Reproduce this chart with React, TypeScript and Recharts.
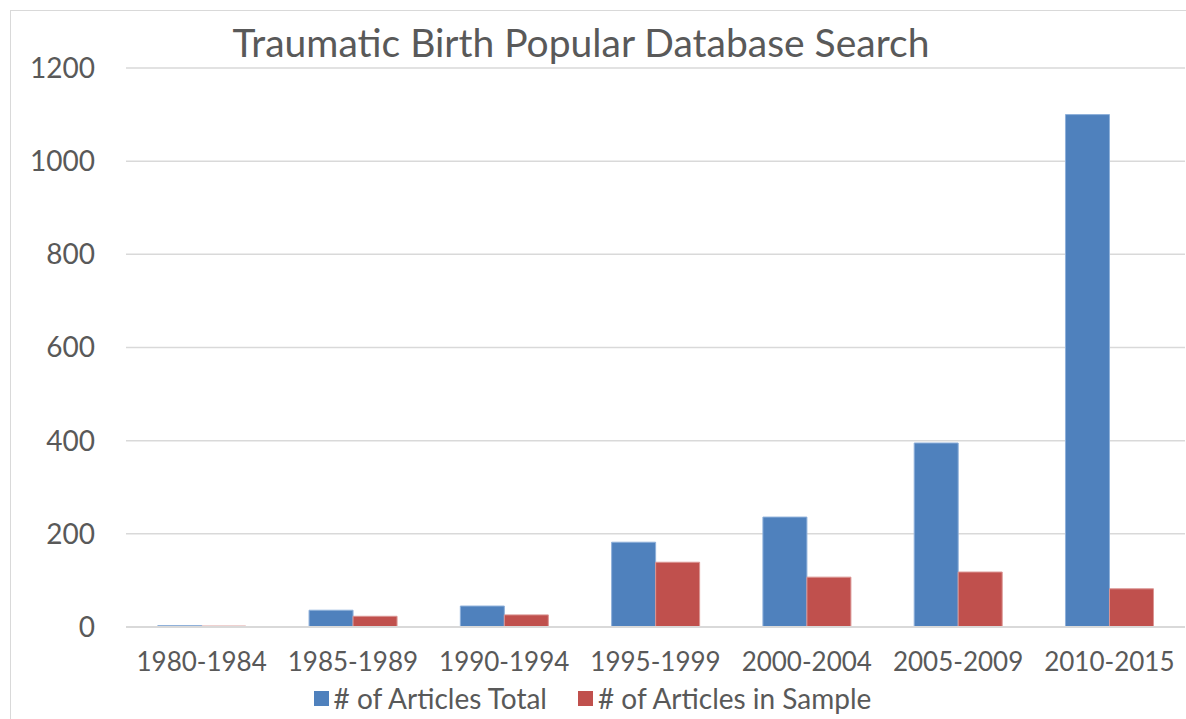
import { Bar, BarChart, CartesianGrid, Legend, XAxis, YAxis } from "recharts";

const periods = ["1980-1984", "1985-1989", "1990-1994", "1995-1999", "2000-2004", "2005-2009", "2010-2015"];
const totalArticles = [3, 36, 45, 182, 236, 395, 1100];
const sampleArticles = [2, 23, 26, 139, 107, 118, 82];
const yTicks = [0, 200, 400, 600, 800, 1000, 1200];

const rows = periods.map((p, i) => ({
  period: p,
  total: totalArticles[i],
  sample: sampleArticles[i],
}));

const FONT = "Lato, 'Open Sans', sans-serif";
const TEXT = "#595959";

function LegendContent(props: any) {
  const { payload } = props;
  return (
    <div style={{ display: "flex", justifyContent: "center", gap: 31, fontFamily: FONT, fontSize: 28, color: TEXT }}>
      {(payload || []).map((item: any) => (
        <div key={item.value} style={{ display: "flex", alignItems: "center", gap: 5 }}>
          <span style={{ width: 15, height: 15, background: item.color, display: "inline-block" }} />
          <span>{item.value}</span>
        </div>
      ))}
    </div>
  );
}

export default function App() {
  return (
    <div style={{ position: "fixed", left: 0, top: 0, width: 1186, height: 719, overflow: "hidden", background: "#fff" }}>
      <div
        style={{
          position: "absolute",
          left: 10,
          top: 10,
          width: 1200,
          height: 740,
          border: "1px solid #d9d9d9",
        }}
      />
      <div
        style={{
          position: "absolute",
          left: 0,
          width: 1162,
          top: 19,
          textAlign: "center",
          fontFamily: FONT,
          fontSize: 39,
          color: TEXT,
        }}
      >
        Traumatic Birth Popular Database Search
      </div>
      <div style={{ position: "absolute", left: 0, top: 0 }}>
        <BarChart
          width={1186}
          height={719}
          data={rows}
          margin={{ top: 68, right: 1, left: 0, bottom: 4 }}
          barCategoryGap="21%"
          barGap={0}
        >
          <CartesianGrid vertical={false} stroke="#d9d9d9" strokeWidth={1.5} />
          <XAxis
            dataKey="period"
            axisLine={{ stroke: "#d9d9d9", strokeWidth: 2 }}
            tickLine={false}
            tickSize={6}
            tickMargin={20}
            height={54}
            interval={0}
            tick={{ fill: TEXT, fontSize: 26, fontFamily: FONT }}
          />
          <YAxis
            domain={[0, 1200]}
            ticks={yTicks}
            axisLine={false}
            tickLine={false}
            tickSize={6}
            tickMargin={25}
            width={126}
            tick={{ fill: TEXT, fontSize: 28, fontFamily: FONT }}
          />
          <Legend verticalAlign="bottom" content={<LegendContent />} />
          <Bar dataKey="total" name="# of Articles Total" fill="#4F81BD" stroke="#8EB0DA" strokeWidth={1} isAnimationActive={false} />
          <Bar dataKey="sample" name="# of Articles in Sample" fill="#C0504D" stroke="#DB9593" strokeWidth={1} isAnimationActive={false} />
        </BarChart>
      </div>
    </div>
  );
}
